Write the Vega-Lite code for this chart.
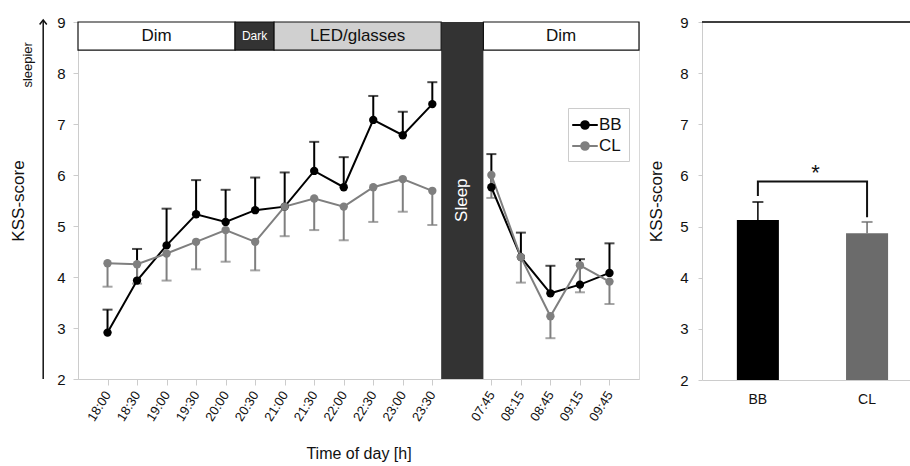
{
  "$schema": "https://vega.github.io/schema/vega-lite/v6.json",
  "padding": {"left": 9, "top": 14, "right": 0, "bottom": 0},
  "config": {
    "font": "Liberation Sans",
    "view": {"stroke": null},
    "axis": {"labelColor": "#111", "titleColor": "#111", "titleFontWeight": "normal", "grid": false, "domainColor": "#cccccc", "tickColor": "#cccccc"},
    "legend": {"title": null, "orient": "none", "legendX": 490, "legendY": 86, "strokeColor": "#cccccc", "fillColor": "#ffffff", "padding": 7,
               "labelFontSize": 17, "labelColor": "#111", "labelOffset": 4, "symbolType": "M-1.5,0L1.5,0M0.45,0A0.45,0.45,0,1,1,-0.45,0A0.45,0.45,0,1,1,0.45,0",
               "symbolSize": 290, "symbolStrokeWidth": 2, "symbolOpacity": 1, "rowPadding": 3}
  },
  "spacing": 6,
  "resolve": {"scale": {"color": "independent", "y": "independent", "x": "independent"}, "legend": {"color": "independent"}},
  "datasets": {
    "kss": [
      {"i": 0, "grp": "BB", "seg": "eve", "v": 2.91, "e": 3.36},
      {"i": 1, "grp": "BB", "seg": "eve", "v": 3.93, "e": 4.55},
      {"i": 2, "grp": "BB", "seg": "eve", "v": 4.62, "e": 5.34},
      {"i": 3, "grp": "BB", "seg": "eve", "v": 5.23, "e": 5.9},
      {"i": 4, "grp": "BB", "seg": "eve", "v": 5.08, "e": 5.71},
      {"i": 5, "grp": "BB", "seg": "eve", "v": 5.31, "e": 5.95},
      {"i": 6, "grp": "BB", "seg": "eve", "v": 5.38, "e": 6.05},
      {"i": 7, "grp": "BB", "seg": "eve", "v": 6.08, "e": 6.65},
      {"i": 8, "grp": "BB", "seg": "eve", "v": 5.76, "e": 6.35},
      {"i": 9, "grp": "BB", "seg": "eve", "v": 7.08, "e": 7.55},
      {"i": 10, "grp": "BB", "seg": "eve", "v": 6.78, "e": 7.24},
      {"i": 11, "grp": "BB", "seg": "eve", "v": 7.39, "e": 7.82},
      {"i": 13, "grp": "BB", "seg": "morn", "v": 5.76, "e": 6.41},
      {"i": 14, "grp": "BB", "seg": "morn", "v": 4.39, "e": 4.87},
      {"i": 15, "grp": "BB", "seg": "morn", "v": 3.68, "e": 4.22},
      {"i": 16, "grp": "BB", "seg": "morn", "v": 3.85, "e": 4.35},
      {"i": 17, "grp": "BB", "seg": "morn", "v": 4.08, "e": 4.66},
      {"i": 0, "grp": "CL", "seg": "eve", "v": 4.27, "e": 3.81},
      {"i": 1, "grp": "CL", "seg": "eve", "v": 4.25, "e": 3.87},
      {"i": 2, "grp": "CL", "seg": "eve", "v": 4.46, "e": 3.93},
      {"i": 3, "grp": "CL", "seg": "eve", "v": 4.69, "e": 4.15},
      {"i": 4, "grp": "CL", "seg": "eve", "v": 4.92, "e": 4.3},
      {"i": 5, "grp": "CL", "seg": "eve", "v": 4.69, "e": 4.13},
      {"i": 6, "grp": "CL", "seg": "eve", "v": 5.38, "e": 4.8},
      {"i": 7, "grp": "CL", "seg": "eve", "v": 5.54, "e": 4.92},
      {"i": 8, "grp": "CL", "seg": "eve", "v": 5.38, "e": 4.72},
      {"i": 9, "grp": "CL", "seg": "eve", "v": 5.76, "e": 5.08},
      {"i": 10, "grp": "CL", "seg": "eve", "v": 5.92, "e": 5.28},
      {"i": 11, "grp": "CL", "seg": "eve", "v": 5.69, "e": 5.02},
      {"i": 13, "grp": "CL", "seg": "morn", "v": 6.0, "e": 5.55},
      {"i": 14, "grp": "CL", "seg": "morn", "v": 4.39, "e": 3.89},
      {"i": 15, "grp": "CL", "seg": "morn", "v": 3.23, "e": 2.8},
      {"i": 16, "grp": "CL", "seg": "morn", "v": 4.23, "e": 3.7},
      {"i": 17, "grp": "CL", "seg": "morn", "v": 3.91, "e": 3.47}
    ],
    "phases": [
      {"phase": "Dim", "x0": -1, "x1": 4.32, "xm": 1.66},
      {"phase": "Dark", "x0": 4.32, "x1": 5.64, "xm": 4.98},
      {"phase": "LED/glasses", "x0": 5.64, "x1": 11.3, "xm": 8.47},
      {"phase": "Dim", "x0": 12.73, "x1": 18, "xm": 15.36}
    ],
    "sleep": [{"label": "Sleep", "x0": 11.3, "x1": 12.73, "xm": 12.01}],
    "bars": [
      {"g": "BB", "m": 5.13, "e": 5.48},
      {"g": "CL", "m": 4.87, "e": 5.09}
    ],
    "bracket": [
      {"g": "BB", "y": 5.6, "o": 1},
      {"g": "BB", "y": 5.88, "o": 2},
      {"g": "CL", "y": 5.88, "o": 3},
      {"g": "CL", "y": 5.18, "o": 4}
    ]
  },
  "hconcat": [
    {
      "width": 18,
      "height": 357,
      "data": {"values": [{"label": "sleepier"}]},
      "layer": [
        {
          "mark": {"type": "rule", "stroke": "#111", "strokeWidth": 1.5},
          "encoding": {
            "x": {"datum": 0.9, "type": "quantitative", "scale": {"domain": [0, 1]}, "axis": null},
            "y": {"datum": 2, "type": "quantitative", "scale": {"domain": [2, 9], "nice": false, "zero": false},
                  "axis": {"title": "KSS-score", "labels": false, "ticks": false, "domain": false, "titleFontSize": 17, "titlePadding": 0}},
            "y2": {"datum": 9.04}
          }
        },
        {
          "mark": {"type": "point", "shape": "M-0.8,1L0,0L0.8,1", "filled": false, "stroke": "#111", "strokeWidth": 1.5, "size": 80, "opacity": 1},
          "encoding": {
            "x": {"datum": 0.9, "type": "quantitative"},
            "y": {"datum": 9.04, "type": "quantitative"}
          }
        },
        {
          "mark": {"type": "text", "angle": 270, "fontSize": 13, "color": "#111"},
          "encoding": {
            "x": {"datum": 0.05, "type": "quantitative"},
            "y": {"datum": 8.16, "type": "quantitative"},
            "text": {"field": "label"}
          }
        }
      ]
    },
    {
      "width": 561,
      "height": 357,
      "view": {"stroke": "#d9d9d9"},
      "layer": [
        {
          "data": {"name": "sleep"},
          "mark": {"type": "rect", "fill": "#333333"},
          "encoding": {
            "x": {"field": "x0", "type": "quantitative", "scale": {"domain": [-1, 18], "nice": false, "zero": false},
                  "axis": {"values": [0,1,2,3,4,5,6,7,8,9,10,11,13,14,15,16,17], "tickCount": 40,
                           "labelExpr": "['18:00','18:30','19:00','19:30','20:00','20:30','21:00','21:30','22:00','22:30','23:00','23:30','','07:45','08:15','08:45','09:15','09:45'][datum.value]",
                           "labelAngle": -58, "labelFontSize": 13, "labelOverlap": false, "labelBound": false, "tickSize": 6, "labelPadding": 7,
                           "title": "Time of day [h]", "titleFontSize": 16, "titlePadding": 22}},
            "x2": {"field": "x1"},
            "y": {"datum": 2, "type": "quantitative", "scale": {"domain": [2, 9], "nice": false, "zero": false},
                  "axis": {"values": [2,3,4,5,6,7,8,9], "labelFontSize": 15, "tickSize": 5, "labelPadding": 8, "title": null}},
            "y2": {"datum": 9}
          }
        },
        {
          "data": {"name": "sleep"},
          "mark": {"type": "text", "angle": 270, "fontSize": 17, "color": "white", "align": "left", "baseline": "middle"},
          "encoding": {
            "x": {"field": "xm", "type": "quantitative"},
            "y": {"datum": 5.08, "type": "quantitative"},
            "text": {"field": "label"}
          }
        },
        {
          "data": {"name": "phases"},
          "mark": {"type": "rect", "stroke": "#111", "strokeWidth": 1.2},
          "encoding": {
            "x": {"field": "x0", "type": "quantitative"},
            "x2": {"field": "x1"},
            "y": {"datum": 8.45, "type": "quantitative"},
            "y2": {"datum": 9},
            "fill": {"field": "phase", "type": "nominal", "scale": {"domain": ["Dim", "Dark", "LED/glasses"], "range": ["#ffffff", "#333333", "#d0d0d0"]}, "legend": null}
          }
        },
        {
          "data": {"name": "phases"},
          "mark": {"type": "text"},
          "encoding": {
            "x": {"field": "xm", "type": "quantitative"},
            "y": {"datum": 8.72, "type": "quantitative"},
            "text": {"field": "phase"},
            "color": {"condition": {"test": "datum.phase === 'Dark'", "value": "#ffffff"}, "value": "#111111"},
            "size": {"condition": {"test": "datum.phase === 'Dark'", "value": 12}, "value": 17}
          }
        },
        {
          "data": {"name": "kss"},
          "mark": {"type": "rule", "strokeWidth": 2},
          "encoding": {
            "x": {"field": "i", "type": "quantitative"},
            "y": {"field": "v", "type": "quantitative"},
            "y2": {"field": "e"},
            "color": {"field": "grp", "type": "nominal", "scale": {"domain": ["BB", "CL"], "range": ["#000000", "#7f7f7f"]}}
          }
        },
        {
          "data": {"name": "kss"},
          "mark": {"type": "tick", "orient": "horizontal", "size": 10, "thickness": 2},
          "encoding": {
            "x": {"field": "i", "type": "quantitative"},
            "y": {"field": "e", "type": "quantitative"},
            "color": {"field": "grp", "type": "nominal"}
          }
        },
        {
          "data": {"name": "kss"},
          "mark": {"type": "line", "strokeWidth": 2},
          "encoding": {
            "x": {"field": "i", "type": "quantitative"},
            "y": {"field": "v", "type": "quantitative"},
            "detail": {"field": "seg"},
            "color": {"field": "grp", "type": "nominal"}
          }
        },
        {
          "data": {"name": "kss"},
          "mark": {"type": "point", "filled": true, "size": 70, "opacity": 1},
          "encoding": {
            "x": {"field": "i", "type": "quantitative"},
            "y": {"field": "v", "type": "quantitative"},
            "color": {"field": "grp", "type": "nominal"}
          }
        }
      ]
    },
    {
      "width": 208,
      "height": 358,
      "layer": [
        {
          "data": {"name": "bars"},
          "mark": {"type": "bar"},
          "encoding": {
            "x": {"field": "g", "type": "nominal", "scale": {"paddingInner": 0.615, "paddingOuter": 0.26, "align": 0.614},
                  "axis": {"labelAngle": 0, "labelFontSize": 14, "ticks": false, "labelPadding": 12, "title": null}},
            "y": {"field": "m", "type": "quantitative", "scale": {"domain": [2, 9], "nice": false, "zero": false},
                  "axis": {"values": [2,3,4,5,6,7,8,9], "labelFontSize": 15, "tickSize": 4, "labelPadding": 10, "title": "KSS-score", "titleFontSize": 17, "titlePadding": 14}},
            "y2": {"datum": 2},
            "color": {"field": "g", "type": "nominal", "scale": {"domain": ["BB", "CL"], "range": ["#000000", "#6b6b6b"]}, "legend": null}
          }
        },
        {
          "data": {"name": "bars"},
          "mark": {"type": "rule", "stroke": "#333333", "strokeWidth": 1.5},
          "encoding": {"y": {"datum": 9, "type": "quantitative"}}
        },
        {
          "data": {"name": "bars"},
          "mark": {"type": "rule", "strokeWidth": 1.5},
          "encoding": {
            "x": {"field": "g", "type": "nominal"},
            "y": {"field": "m", "type": "quantitative"},
            "y2": {"field": "e"},
            "color": {"field": "g", "type": "nominal", "legend": null}
          }
        },
        {
          "data": {"name": "bars"},
          "mark": {"type": "tick", "orient": "horizontal", "size": 11, "thickness": 2},
          "encoding": {
            "x": {"field": "g", "type": "nominal"},
            "y": {"field": "e", "type": "quantitative"},
            "color": {"field": "g", "type": "nominal", "legend": null}
          }
        },
        {
          "data": {"name": "bracket"},
          "mark": {"type": "line", "stroke": "#111111", "strokeWidth": 2},
          "encoding": {
            "x": {"field": "g", "type": "nominal"},
            "y": {"field": "y", "type": "quantitative"},
            "order": {"field": "o"}
          }
        },
        {
          "data": {"values": [{"s": "*"}]},
          "mark": {"type": "text", "fontSize": 22, "color": "#111"},
          "encoding": {
            "x": {"datum": "BB", "type": "nominal", "bandPosition": 1.87},
            "y": {"datum": 6.05, "type": "quantitative"},
            "text": {"field": "s"}
          }
        }
      ]
    }
  ]
}
